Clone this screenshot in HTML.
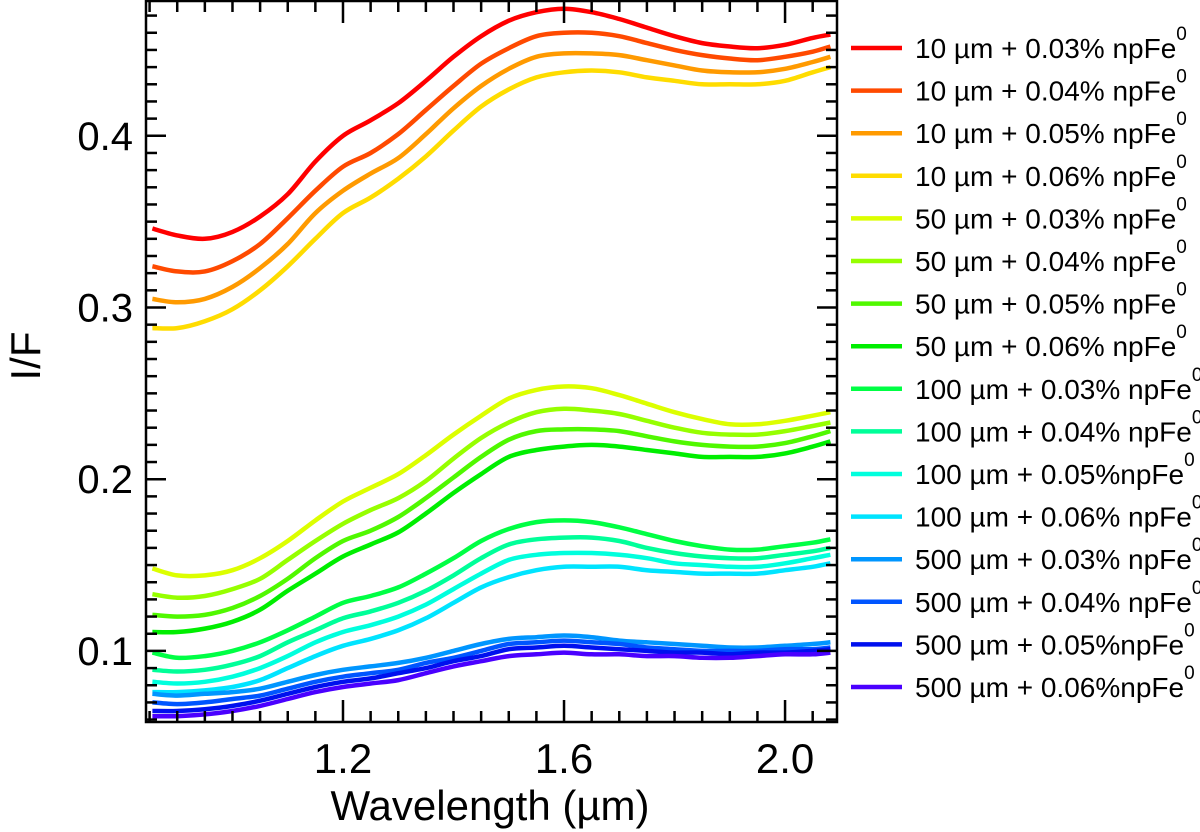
<!DOCTYPE html>
<html><head><meta charset="utf-8">
<style>
html,body{margin:0;padding:0;background:#fff;overflow:hidden;}
svg{display:block;font-family:"Liberation Sans",Arial,sans-serif;}
</style></head>
<body>
<svg id="chart" width="1200" height="832" viewBox="0 0 1200 832" xmlns="http://www.w3.org/2000/svg"></svg>
<script>
const wavelengths = [0.855,0.9,0.95,1.0,1.05,1.1,1.15,1.2,1.25,1.3,1.35,1.4,1.45,1.5,1.55,1.6,1.65,1.7,1.75,1.8,1.85,1.9,1.95,2.0,2.05,2.082];
const seriesLabels = ["10 µm + 0.03% npFe","10 µm + 0.04% npFe","10 µm + 0.05% npFe","10 µm + 0.06% npFe","50 µm + 0.03% npFe","50 µm + 0.04% npFe","50 µm + 0.05% npFe","50 µm + 0.06% npFe","100 µm + 0.03% npFe","100 µm + 0.04% npFe","100 µm + 0.05%npFe","100 µm + 0.06% npFe","500 µm + 0.03% npFe","500 µm + 0.04% npFe","500 µm + 0.05%npFe","500 µm + 0.06%npFe"];
const seriesColors = ["#ff0000","#ff4a00","#ff9a00","#ffdc00","#dcff00","#96ff00","#50f800","#00ee00","#00ff44","#00ff99","#00ffdd","#00e4ff","#0096ff","#0055ff","#0010ee","#4a00ff"];
const s10_03 = [0.346,0.342,0.340,0.344,0.353,0.366,0.385,0.400,0.409,0.419,0.432,0.446,0.458,0.467,0.472,0.474,0.472,0.468,0.463,0.458,0.454,0.452,0.451,0.453,0.457,0.459];
const s10_04 = [0.324,0.321,0.321,0.327,0.337,0.352,0.368,0.382,0.390,0.401,0.415,0.429,0.442,0.451,0.458,0.460,0.460,0.458,0.454,0.450,0.447,0.445,0.444,0.446,0.449,0.452];
const s10_05 = [0.305,0.303,0.305,0.312,0.323,0.337,0.355,0.368,0.378,0.387,0.401,0.416,0.429,0.439,0.446,0.448,0.448,0.447,0.444,0.441,0.438,0.437,0.437,0.439,0.443,0.446];
const s10_06 = [0.288,0.288,0.292,0.299,0.310,0.324,0.340,0.355,0.364,0.375,0.388,0.403,0.417,0.427,0.434,0.437,0.438,0.437,0.434,0.432,0.430,0.430,0.430,0.432,0.437,0.440];
const s50_03 = [0.148,0.144,0.144,0.147,0.154,0.164,0.176,0.187,0.195,0.203,0.214,0.226,0.237,0.247,0.252,0.254,0.253,0.249,0.244,0.239,0.235,0.232,0.232,0.234,0.237,0.239];
const s50_04 = [0.133,0.131,0.132,0.136,0.142,0.153,0.164,0.174,0.182,0.189,0.199,0.212,0.224,0.233,0.239,0.241,0.240,0.238,0.234,0.230,0.227,0.226,0.226,0.228,0.231,0.233];
const s50_05 = [0.121,0.120,0.121,0.125,0.132,0.142,0.154,0.164,0.170,0.178,0.189,0.201,0.213,0.223,0.228,0.229,0.229,0.228,0.225,0.222,0.220,0.219,0.219,0.221,0.225,0.228];
const s50_06 = [0.111,0.111,0.113,0.117,0.124,0.135,0.145,0.155,0.162,0.169,0.180,0.192,0.203,0.213,0.217,0.219,0.220,0.219,0.217,0.215,0.213,0.213,0.213,0.215,0.219,0.222];
const s100_03 = [0.099,0.096,0.097,0.100,0.105,0.112,0.120,0.128,0.132,0.137,0.145,0.154,0.164,0.171,0.175,0.176,0.175,0.172,0.168,0.164,0.161,0.159,0.159,0.161,0.163,0.165];
const s100_04 = [0.089,0.088,0.089,0.092,0.097,0.105,0.112,0.119,0.123,0.128,0.135,0.144,0.154,0.162,0.165,0.166,0.166,0.164,0.160,0.157,0.155,0.154,0.154,0.156,0.158,0.160];
const s100_05 = [0.082,0.081,0.082,0.085,0.090,0.097,0.105,0.111,0.115,0.120,0.127,0.136,0.145,0.153,0.156,0.157,0.157,0.156,0.154,0.151,0.150,0.149,0.149,0.151,0.154,0.156];
const s100_06 = [0.076,0.076,0.077,0.079,0.083,0.090,0.097,0.103,0.107,0.112,0.119,0.128,0.137,0.143,0.147,0.149,0.149,0.149,0.147,0.146,0.145,0.145,0.145,0.147,0.149,0.151];
const s500_03 = [0.075,0.074,0.075,0.076,0.078,0.082,0.086,0.089,0.091,0.093,0.096,0.100,0.104,0.107,0.108,0.109,0.108,0.106,0.105,0.104,0.103,0.102,0.102,0.103,0.104,0.105];
const s500_04 = [0.070,0.069,0.070,0.072,0.074,0.078,0.082,0.085,0.087,0.089,0.093,0.096,0.100,0.104,0.105,0.106,0.105,0.104,0.102,0.101,0.100,0.100,0.100,0.101,0.101,0.102];
const s500_05 = [0.065,0.065,0.066,0.068,0.071,0.075,0.079,0.082,0.084,0.087,0.090,0.094,0.097,0.101,0.102,0.103,0.102,0.101,0.100,0.099,0.099,0.098,0.099,0.099,0.100,0.101];
const s500_06 = [0.062,0.062,0.063,0.065,0.068,0.072,0.076,0.079,0.081,0.083,0.087,0.091,0.094,0.097,0.098,0.099,0.098,0.098,0.097,0.097,0.096,0.096,0.097,0.098,0.098,0.099];
const allSeries = [s10_03,s10_04,s10_05,s10_06,s50_03,s50_04,s50_05,s50_06,s100_03,s100_04,s100_05,s100_06,s500_03,s500_04,s500_05,s500_06];
const xTickLabels = ["1.2","1.6","2.0"];
const yTickLabels = ["0.1","0.2","0.3","0.4"];

const NS = "http://www.w3.org/2000/svg";
const svg = document.getElementById("chart");
const L = 146, R = 837, T = 1, B = 722;
const xMin = 0.8435, xMax = 2.094, yMin = 0.0586, yMax = 0.4785;
const xs = v => L + (v - xMin) / (xMax - xMin) * (R - L);
const ys = v => B - (v - yMin) / (yMax - yMin) * (B - T);

function mk(tag, attrs, parent) {
  const e = document.createElementNS(NS, tag);
  for (const k in attrs) e.setAttribute(k, attrs[k]);
  (parent || svg).appendChild(e);
  return e;
}

const gS = mk("g", {});


allSeries.forEach((vals, si) => {
  const pts = vals.map((v, i) => [xs(wavelengths[i]), ys(v)]);
  let d = "M" + pts[0][0].toFixed(1) + "," + pts[0][1].toFixed(1);
  for (let i = 0; i < pts.length - 1; i++) {
    const p0 = pts[Math.max(0, i - 1)], p1 = pts[i], p2 = pts[i + 1], p3 = pts[Math.min(pts.length - 1, i + 2)];
    const c1 = [p1[0] + (p2[0] - p0[0]) / 6, p1[1] + (p2[1] - p0[1]) / 6];
    const c2 = [p2[0] - (p3[0] - p1[0]) / 6, p2[1] - (p3[1] - p1[1]) / 6];
    d += " C" + c1[0].toFixed(1) + "," + c1[1].toFixed(1) + " " + c2[0].toFixed(1) + "," + c2[1].toFixed(1) + " " + p2[0].toFixed(1) + "," + p2[1].toFixed(1);
  }
  const p = mk("path", {d: d, fill: "none", stroke: seriesColors[si], "stroke-width": 4.5, "stroke-linejoin": "round"}, gS);
  
  
});

const frame = mk("rect", {x: L, y: T, width: R - L, height: B - T, fill: "none", stroke: "#000", "stroke-width": 2.5});



const gY = mk("g", {stroke: "#000", "stroke-width": 2.5});


for (let k = 6; k <= 47; k++) {
  const v = k / 100, y = ys(v);
  if (y < T || y > B) continue;
  const len = (k % 10 === 0) ? 20 : 11;
  mk("line", {x1: L, x2: L + len, y1: y, y2: y}, gY);
  mk("line", {x1: R, x2: R - len, y1: y, y2: y}, gY);
}
const gX = mk("g", {stroke: "#000", "stroke-width": 2.5});


for (let k = 17; k <= 41; k++) {
  const v = k * 0.05, x = xs(v);
  if (x < L || x > R) continue;
  const major = (k % 8 === 0);
  const len = major ? 22 : 11;
  mk("line", {x1: x, x2: x, y1: B, y2: B - len}, gX);
  mk("line", {x1: x, x2: x, y1: T, y2: T + len}, gX);
}
xTickLabels.forEach(t => {
  const e = mk("text", {x: xs(parseFloat(t)), y: 773, "font-size": 42, "text-anchor": "middle", fill: "#000"});
  e.textContent = t;
  
  
});
yTickLabels.forEach(t => {
  const e = mk("text", {x: 133, y: ys(parseFloat(t)) + 14, "font-size": 40, "text-anchor": "end", fill: "#000"});
  e.textContent = t;
  
  
});
const xt = mk("text", {x: 490, y: 820, "font-size": 42, "text-anchor": "middle", fill: "#000"});
xt.textContent = "Wavelength (µm)";


const yt = mk("text", {x: 0, y: 0, "font-size": 42, "text-anchor": "middle", fill: "#000", transform: "translate(40,356) rotate(-90)"});
yt.textContent = "I/F";



const gL = mk("g", {});


seriesLabels.forEach((lab, i) => {
  const y = 48 + i * 42.6;
  const g = mk("g", {}, gL);
  
  
  mk("line", {x1: 851, x2: 902, y1: y, y2: y, stroke: seriesColors[i], "stroke-width": 4.5}, g);
  const t = mk("text", {x: 915, y: y + 10, "font-size": 28, fill: "#000"}, g);
  t.textContent = lab;
  const sup = mk("tspan", {dy: -18, "font-size": 19}, t);
  sup.textContent = "0";
});
</script>
</body></html>
